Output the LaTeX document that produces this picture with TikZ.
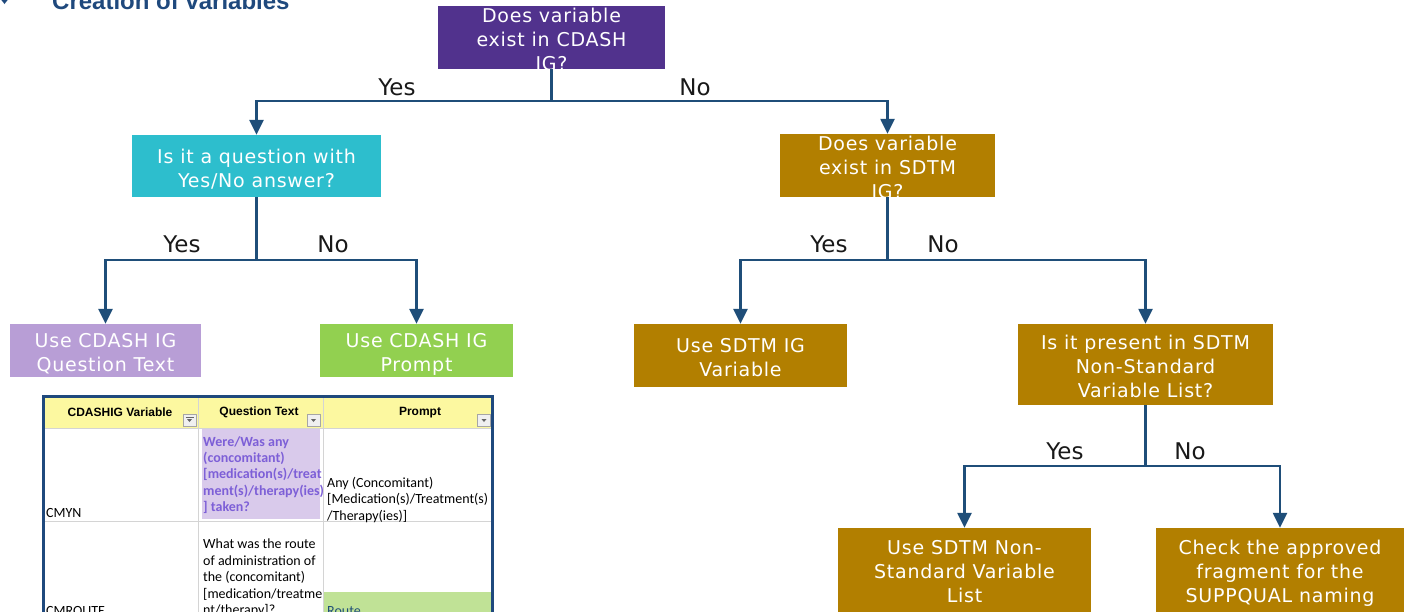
\documentclass[tikz,border=0pt]{standalone}
\usepackage{fontspec}
\setmainfont{DejaVu Sans}
\newfontfamily\boxfont[LetterSpace=4]{DejaVu Sans}
\newfontfamily\lblfont{DejaVu Sans}
\newfontfamily\titlefont{Liberation Sans}
\newfontfamily\tabfont{Carlito}
\usetikzlibrary{arrows.meta}
\definecolor{cpurple}{RGB}{81,50,141}
\definecolor{ccyan}{RGB}{45,190,205}
\definecolor{cgold}{RGB}{178,127,0}
\definecolor{clav}{RGB}{184,158,214}
\definecolor{cgreen}{RGB}{146,208,80}
\definecolor{cline}{RGB}{31,78,121}
\definecolor{ctitle}{RGB}{31,73,125}
\definecolor{cyell}{RGB}{252,248,160}
\definecolor{clavcell}{RGB}{217,202,235}
\definecolor{cpurtext}{RGB}{125,95,215}
\definecolor{cgreencell}{RGB}{192,226,150}
\definecolor{cgrid}{RGB}{212,212,212}
\newcommand\bxt[2][8.75pt]{\raisebox{-#1}[0pt][0pt]{\begin{tabular}{@{}c@{}}#2\end{tabular}}}
\begin{document}
\begin{tikzpicture}[x=1pt,y=-1pt,
  fbox/.style={rectangle, inner sep=0pt, text=white,
    font=\boxfont\fontsize{19}{24}\selectfont},
  conn/.style={draw=cline, line width=2.5pt},
  arr/.style={conn, -{Triangle[width=14pt,length=15pt]}},
  lbl/.style={font=\lblfont\fontsize{23}{26}\selectfont, text=black!90, inner sep=0pt},
  tcell/.style={anchor=north west, inner sep=0pt, align=left,
    font=\tabfont\fontsize{14}{16.4}\selectfont},
  thead/.style={inner sep=0pt, font=\titlefont\bfseries\fontsize{12}{14}\selectfont},
  ddbox/.style={draw=black!35, fill=black!6, line width=0.6pt, minimum width=13pt, minimum height=12pt, inner sep=0pt}
]
\useasboundingbox (0,0) rectangle (1404,611);

% title
\fill[ctitle] (-1,-3) -- (10,-3) -- (4.5,4) -- cycle;
\node[anchor=base west, inner sep=0pt, text=ctitle, font=\titlefont\bfseries\fontsize{24}{26}\selectfont] (title) at (52,9) {Creation of variables};

% boxes
\node[fbox, fill=cpurple, minimum width=227pt, minimum height=63pt] (b1) at (551.5,37.5) {\bxt{Does variable\\exist in CDASH\\IG?}};
\node[fbox, fill=ccyan, minimum width=249pt, minimum height=62pt] (b2) at (256.5,166) {\bxt{Is it a question with\\Yes/No answer?}};
\node[fbox, fill=cgold, minimum width=215pt, minimum height=63pt] (b3) at (887.5,165.5) {\bxt{Does variable\\exist in SDTM\\IG?}};
\node[fbox, fill=clav, minimum width=191pt, minimum height=53pt] (b4) at (105.5,350.5) {\bxt{Use CDASH IG\\Question Text}};
\node[fbox, fill=cgreen, minimum width=193pt, minimum height=53pt] (b5) at (416.5,350.5) {\bxt{Use CDASH IG\\Prompt}};
\node[fbox, fill=cgold, minimum width=213pt, minimum height=63pt] (b6) at (740.5,355.5) {\bxt{Use SDTM IG\\Variable}};
\node[fbox, fill=cgold, minimum width=255pt, minimum height=81pt] (b7) at (1145.5,364.5) {\bxt{Is it present in SDTM\\Non-Standard\\Variable List?}};
\node[fbox, fill=cgold, minimum width=253pt, minimum height=88pt] (b8) at (964.5,572) {\bxt[6.25pt]{Use SDTM Non-\\Standard Variable\\List}};
\node[fbox, fill=cgold, minimum width=248pt, minimum height=88pt] (b9) at (1280,572) {\bxt[6.25pt]{Check the approved\\fragment for the\\SUPPQUAL naming}};

% junctions
\coordinate (j1) at (551.5,101);
\coordinate (j2) at (256.5,260);
\coordinate (j3) at (887.5,260);
\coordinate (j4) at (1145.5,466);

\draw[conn] (b1.south) -- (j1);
\draw[arr] (j1) -| (b2.north);
\draw[arr] (j1) -| (b3.north);
\draw[conn] (b2.south) -- (j2);
\draw[arr] (j2) -| (b4.north);
\draw[arr] (j2) -| (b5.north);
\draw[conn] (b3.south) -- (j3);
\draw[arr] (j3) -| (b6.north);
\draw[arr] (j3) -| (b7.north);
\draw[conn] (b7.south) -- (j4);
\draw[arr] (j4) -| (b8.north);
\draw[arr] (j4) -| (b9.north);

% labels
\node[lbl] (l1) at (397,87) {Yes};
\node[lbl] (l2) at (695,87) {No};
\node[lbl] (l3) at (182,244) {Yes};
\node[lbl] (l4) at (333,244) {No};
\node[lbl] (l5) at (829,244) {Yes};
\node[lbl] (l6) at (943,244) {No};
\node[lbl] (l7) at (1065,451) {Yes};
\node[lbl] (l8) at (1190,451) {No};

% table
\fill[white] (42,395) rectangle (494,620);
\fill[cyell] (43,396) rectangle (492,428);
\fill[clavcell] (202,429) rectangle (320,519);
\fill[cgreencell] (323,592) rectangle (492,620);
\draw[cgrid, line width=1pt] (198,396) -- (198,620);
\draw[cgrid, line width=1pt] (323,396) -- (323,620);
\draw[cgrid, line width=1pt] (43,428.5) -- (492,428.5);
\draw[cgrid, line width=1pt] (43,521.5) -- (492,521.5);
\draw[ctitle, line width=3pt] (43.5,620) -- (43.5,396) -- (492.5,396) -- (492.5,620);

\node[thead] (h1) at (120,412.5) {CDASHIG Variable};
\node[thead] (h2) at (259,412.5) {Question Text};
\node[thead] (h3) at (420,412.5) {Prompt};
\node[ddbox] (d1) at (189.5,420) {};
\node[ddbox] (d2) at (313.5,420) {};
\node[ddbox] (d3) at (484,420) {};
\fill[black!60] ([xshift=-2.5pt,yshift=1pt]d1.center) -- ([xshift=2.5pt,yshift=1pt]d1.center) -- ([yshift=-2pt]d1.center) -- cycle;
\draw[black!60, line width=0.6pt] ([xshift=-4pt,yshift=3pt]d1.center) -- ([xshift=4pt,yshift=3pt]d1.center);
\fill[black!60] ([xshift=-2.5pt,yshift=1pt]d2.center) -- ([xshift=2.5pt,yshift=1pt]d2.center) -- ([yshift=-2pt]d2.center) -- cycle;
\fill[black!60] ([xshift=-2.5pt,yshift=1pt]d3.center) -- ([xshift=2.5pt,yshift=1pt]d3.center) -- ([yshift=-2pt]d3.center) -- cycle;

\node[tcell, text=cpurtext, font=\tabfont\bfseries\fontsize{14}{16.4}\selectfont] (q1) at (203,436) {Were/Was any\\(concomitant)\\[0pt][medication(s)/treat\\ment(s)/therapy(ies)\\] taken?};
\node[tcell] (p1) at (327,477) {Any (Concomitant)\\[0pt][Medication(s)/Treatment(s)\\/Therapy(ies)]};
\node[tcell] (v1) at (46,508) {CMYN};
\node[tcell] (q2) at (203,539) {What was the route\\of administration of\\the (concomitant)\\[0pt][medication/treatme\\nt/therapy]?};
\node[tcell] (v2) at (46,606) {CMROUTE};
\node[tcell, text=cline] (p2) at (327,606) {Route};
\end{tikzpicture}
\end{document}
